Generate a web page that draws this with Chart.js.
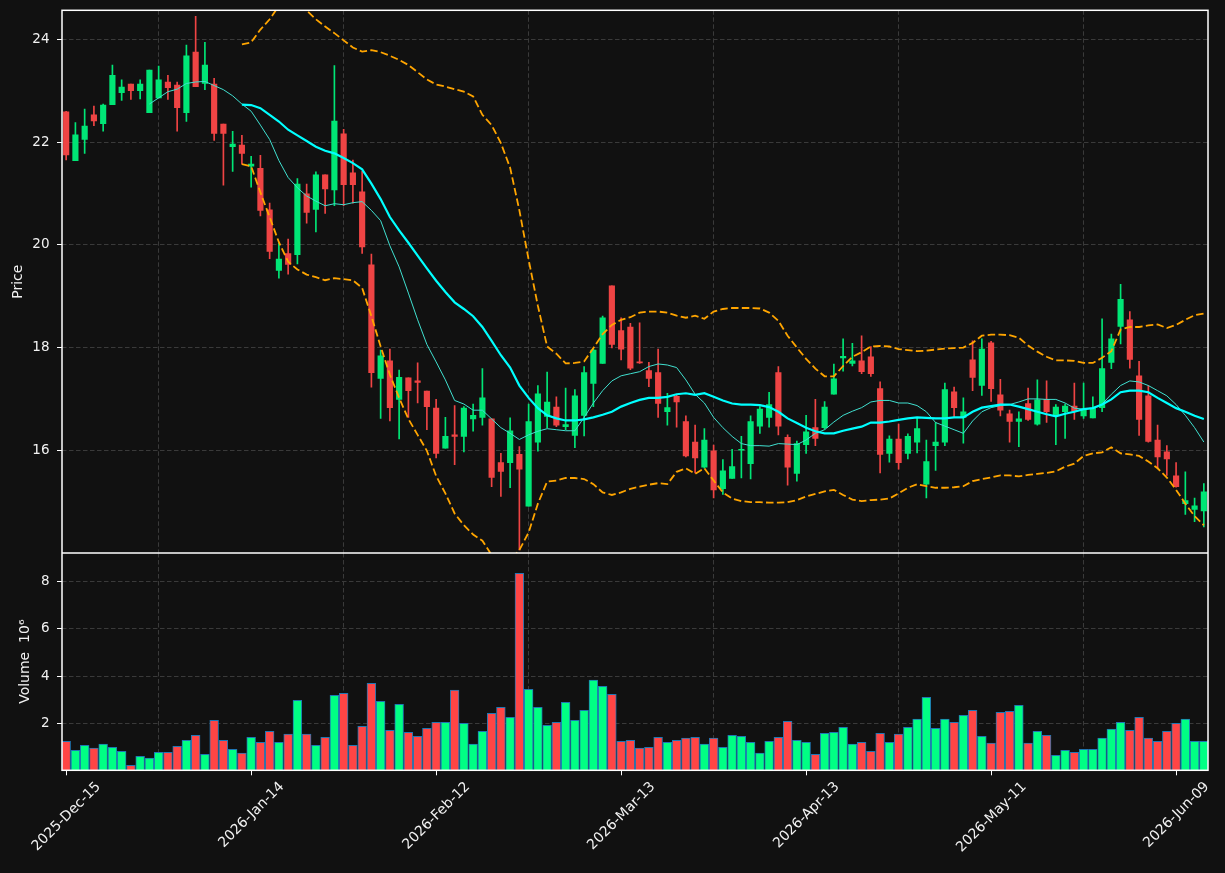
<!DOCTYPE html>
<html><head><meta charset="utf-8">
<script src="https://cdn.jsdelivr.net/npm/chart.js@4.4.1/dist/chart.umd.min.js"></script>
<style>
html,body{margin:0;padding:0;background:#111111;}
#wrap{position:relative;width:1225px;height:873px;background:#111111;overflow:hidden;}
.pane{position:absolute;left:0;}
</style></head><body>
<div id="wrap">
<div class="pane" style="top:0;width:1225px;height:553px"><canvas id="c1" width="1225" height="553"></canvas></div>
<div class="pane" style="top:553px;width:1225px;height:320px"><canvas id="c2" width="1225" height="320"></canvas></div>
</div>
<script>
// ---------------- DATA ----------------
const tickPositions = [0, 20, 40, 60, 80, 100, 120];
const tickLabels = ['2025-Dec-15','2026-Jan-14','2026-Feb-12','2026-Mar-13','2026-Apr-13','2026-May-11','2026-Jun-09'];
const priceTicks = [16, 18, 20, 22, 24];
const volumeTicks = [2, 4, 6, 8];

const open = [22.59,21.64,22.05,22.53,22.36,22.73,22.96,23.13,23.00,22.57,22.86,23.17,23.11,22.57,23.75,23.14,23.13,22.35,21.91,21.94,
21.53,21.49,20.68,19.50,19.83,19.81,20.99,20.69,21.36,21.07,22.16,21.40,21.03,19.61,17.40,17.74,16.99,17.41,17.35,17.15,
16.82,16.04,16.30,16.27,16.61,16.64,16.61,15.76,15.76,15.92,14.91,16.16,16.66,16.84,16.46,16.29,16.68,17.30,17.69,19.20,
18.33,18.40,17.72,17.55,17.51,16.75,17.05,16.56,16.16,15.67,15.99,15.25,15.45,16.00,15.74,16.47,16.64,17.51,16.25,15.55,
16.11,16.44,16.44,17.09,17.80,17.69,17.74,17.82,17.20,15.94,16.22,15.94,16.16,15.34,16.09,16.16,17.14,16.64,17.76,17.26,
18.09,17.08,16.71,16.56,16.91,16.51,16.99,16.68,16.75,16.86,16.67,16.63,16.83,17.71,18.41,18.54,17.45,17.06,16.20,15.97,
15.50,14.96,14.85,14.82];
const high = [22.60,22.38,22.64,22.70,22.74,23.50,23.21,23.13,23.21,23.40,23.48,23.30,23.17,23.89,24.45,23.94,23.24,22.35,22.21,22.13,
21.72,21.74,20.81,20.03,20.11,21.29,21.18,21.42,21.36,23.49,22.25,21.65,21.43,19.82,17.95,17.97,17.56,17.41,17.70,17.15,
16.99,16.64,16.87,16.85,16.90,17.59,16.61,15.94,16.63,16.07,16.90,17.26,17.52,17.04,17.21,17.18,17.63,17.97,18.61,19.20,
18.58,18.47,18.48,17.71,17.97,17.11,17.08,16.67,16.49,16.42,16.10,15.82,16.02,16.27,16.67,16.85,17.13,17.63,16.30,16.18,
16.68,16.99,16.95,17.68,18.17,18.08,18.23,18.02,17.33,16.28,16.51,16.32,16.64,16.20,16.54,17.31,17.23,17.02,18.13,18.17,
18.12,17.38,16.78,16.75,17.21,17.37,17.35,16.89,16.90,17.31,17.31,17.04,18.56,18.26,19.23,18.70,17.73,17.26,16.49,16.09,
15.76,15.58,15.07,15.35];
const low = [21.65,21.64,21.78,22.32,22.21,22.73,22.81,22.83,22.84,22.57,22.86,22.83,22.21,22.40,23.08,23.02,22.03,21.16,21.43,21.57,
21.12,20.56,19.73,19.35,19.43,19.63,20.42,20.25,20.61,20.76,20.76,20.81,19.83,17.23,16.62,16.57,16.22,16.64,16.92,16.40,
15.85,16.04,15.72,15.97,16.37,16.49,15.29,15.10,15.27,14.06,14.91,15.98,16.44,16.46,16.40,16.05,16.28,16.85,17.69,17.99,
17.76,17.57,17.69,17.24,16.64,16.49,16.45,15.87,15.56,15.65,15.07,15.14,15.45,15.46,15.44,16.33,16.45,16.30,15.32,15.40,
15.94,16.09,16.41,17.09,17.54,17.64,17.49,17.44,15.56,15.77,15.63,15.83,15.95,15.07,15.61,16.09,16.64,16.14,17.16,17.07,
16.95,16.67,16.16,16.07,16.58,16.49,16.54,16.11,16.23,16.60,16.62,16.63,16.75,17.59,18.07,17.60,16.29,16.16,15.65,15.51,
15.28,14.75,14.61,14.51];
const close = [21.75,22.14,22.31,22.41,22.72,23.30,23.07,23.00,23.13,23.40,23.21,23.06,22.67,23.68,23.08,23.50,22.17,22.17,21.96,21.78,
21.57,20.67,19.87,19.72,19.62,21.18,20.63,21.36,21.09,22.41,21.17,21.17,19.96,17.51,17.84,16.83,17.42,17.16,17.32,16.85,
15.94,16.27,16.27,16.82,16.68,17.02,15.47,15.59,16.38,15.63,16.56,17.10,16.94,16.49,16.50,17.06,17.51,17.95,18.58,18.06,
17.97,17.60,17.70,17.40,16.91,16.83,16.94,15.89,15.85,16.20,15.23,15.60,15.68,16.02,16.56,16.80,16.89,16.47,15.67,16.13,
16.36,16.23,16.84,17.39,17.83,17.74,17.53,17.49,15.92,16.22,15.76,16.27,16.42,15.78,16.16,17.18,16.83,16.75,17.42,17.97,
17.20,16.78,16.56,16.61,16.60,16.98,16.75,16.84,16.86,16.76,16.80,16.82,17.59,18.17,18.94,17.77,16.60,16.17,15.87,15.83,
15.29,15.02,14.92,15.19];
// volume in millions
const volume = [1.27,0.89,1.10,0.98,1.15,1.02,0.85,0.26,0.64,0.56,0.81,0.81,1.06,1.31,1.52,0.72,2.15,1.31,0.93,0.77,
1.44,1.23,1.69,1.23,1.57,2.99,1.57,1.10,1.44,3.20,3.29,1.10,1.90,3.71,2.95,1.73,2.83,1.65,1.48,1.82,
2.07,2.07,3.42,2.03,1.15,1.69,2.45,2.70,2.28,8.33,3.46,2.70,1.94,2.07,2.91,2.15,2.57,3.84,3.58,3.25,
1.27,1.31,0.98,1.02,1.44,1.23,1.31,1.40,1.44,1.15,1.40,1.02,1.52,1.48,1.23,0.77,1.27,1.44,2.11,1.31,
1.23,0.72,1.61,1.65,1.86,1.15,1.23,0.85,1.61,1.23,1.57,1.86,2.20,3.12,1.82,2.20,2.07,2.36,2.57,1.48,
1.19,2.49,2.53,2.78,1.19,1.69,1.52,0.68,0.89,0.81,0.93,0.93,1.40,1.78,2.07,1.73,2.28,1.40,1.27,1.69,
2.03,2.20,1.27,1.27];
// moving averages and bands, starting indices
const ma10Start = 9;
const ma10 = [22.74,22.86,22.98,23.03,23.14,23.17,23.18,23.10,23.02,22.90,22.74,
22.60,22.33,22.05,21.64,21.31,21.11,20.95,20.85,20.76,20.80,20.78,20.82,20.84,20.67,20.47,19.98,19.57,19.06,18.54,18.06,17.72,
17.37,16.97,16.90,16.78,16.78,16.61,16.44,16.33,16.21,16.30,16.37,16.42,16.40,16.38,16.38,16.64,16.92,17.16,17.35,17.45,17.49,
17.53,17.63,17.68,17.66,17.61,17.37,17.09,16.92,16.64,16.44,16.27,16.13,16.09,16.09,16.08,16.13,16.12,16.11,16.20,16.33,
16.40,16.55,16.68,16.76,16.83,16.94,16.97,16.97,16.92,16.92,16.87,16.75,16.54,16.47,16.40,16.33,16.57,16.75,16.83,16.87,16.89,
16.94,17.00,17.00,16.99,16.99,16.92,16.82,16.80,16.82,16.90,17.09,17.26,17.35,17.33,17.26,17.16,17.06,16.89,16.68,16.44,16.16];
const ma20Start = 19;
const ma20 = [22.73,
22.72,22.66,22.53,22.40,22.24,22.13,22.02,21.91,21.83,21.78,21.69,21.59,21.47,21.19,20.89,20.54,20.28,20.04,19.79,19.54,19.30,
19.08,18.88,18.75,18.61,18.40,18.13,17.85,17.61,17.26,17.02,16.82,16.68,16.62,16.58,16.58,16.60,16.64,16.69,16.75,16.85,16.92,
16.98,17.02,17.02,17.04,17.09,17.11,17.08,17.11,17.04,16.97,16.91,16.89,16.89,16.88,16.84,16.75,16.62,16.53,16.44,16.37,
16.33,16.33,16.38,16.42,16.46,16.54,16.54,16.56,16.59,16.62,16.64,16.63,16.62,16.62,16.64,16.64,16.75,16.83,16.86,16.89,16.89,
16.85,16.80,16.75,16.70,16.66,16.71,16.75,16.80,16.82,16.89,16.99,17.13,17.16,17.16,17.13,17.02,16.92,16.82,16.75,16.67,16.61];
const bbStart = 19;
const bbUpper = [23.90,
23.94,24.19,24.39,24.65,24.68,24.64,24.56,24.39,24.25,24.12,23.98,23.84,23.76,23.79,23.75,23.68,23.60,23.50,23.36,23.22,23.12,
23.08,23.03,22.98,22.89,22.53,22.33,21.98,21.50,20.67,19.71,18.81,18.02,17.88,17.69,17.70,17.73,17.99,18.26,18.44,18.54,18.59,
18.68,18.70,18.70,18.68,18.62,18.58,18.62,18.56,18.70,18.75,18.77,18.77,18.77,18.76,18.68,18.52,18.23,18.00,17.78,17.59,
17.44,17.44,17.64,17.82,17.91,18.02,18.03,18.02,17.97,17.95,17.93,17.94,17.96,17.98,17.99,18.00,18.09,18.23,18.25,18.25,18.24,
18.19,18.04,17.92,17.82,17.75,17.75,17.74,17.70,17.70,17.80,17.93,18.35,18.40,18.40,18.43,18.45,18.38,18.44,18.54,18.63,18.66];
const bbLower = [21.57,
21.53,21.02,20.54,20.05,19.67,19.52,19.42,19.37,19.31,19.35,19.33,19.31,19.16,18.61,18.02,17.47,17.02,16.61,16.30,15.99,15.50,
15.16,14.77,14.54,14.36,14.24,13.96,13.85,13.85,14.06,14.40,14.96,15.39,15.41,15.46,15.46,15.44,15.34,15.18,15.13,15.18,15.25,
15.29,15.33,15.36,15.34,15.58,15.65,15.54,15.65,15.41,15.18,15.06,15.01,14.99,14.99,14.98,14.98,14.99,15.03,15.10,15.15,
15.20,15.23,15.13,15.04,15.01,15.03,15.04,15.06,15.16,15.27,15.34,15.30,15.27,15.27,15.28,15.30,15.40,15.44,15.47,15.51,15.51,
15.49,15.52,15.54,15.56,15.59,15.68,15.74,15.89,15.94,15.96,16.06,15.94,15.92,15.89,15.78,15.65,15.47,15.23,14.96,14.72,14.54];

// ---------------- STYLE ----------------
const BG = '#111111';
const GRID = '#3a3a3a';
const TXT = '#f2f2f2';
const UP = '#00e676', DOWN = '#ef4444';
const VUP = '#00ff84', VDOWN = '#ff4545';
const FONT = '"DejaVu Sans", "Liberation Sans", sans-serif';
Chart.defaults.font.family = FONT;
Chart.defaults.color = TXT;
Chart.defaults.animation = false;

const n = close.length;
const idx = close.map((_, i) => i);
const isUp = idx.map(i => close[i] >= open[i]);
const candleColors = isUp.map(u => u ? UP : DOWN);
const volColors = isUp.map(u => u ? VUP : VDOWN);
const X_MIN = -0.45, X_MAX = (n - 1) + 0.45;

function series(arr, start) { return arr.map((v, k) => ({x: start + k, y: v})); }

const framePlugin = {
  id: 'frame',
  afterDraw(chart) {
    const a = chart.chartArea, ctx = chart.ctx;
    ctx.save();
    ctx.strokeStyle = '#ffffff';
    ctx.lineWidth = 1.5;
    ctx.strokeRect(a.left, a.top, a.right - a.left, a.bottom - a.top);
    ctx.restore();
  }
};
const bgPlugin = { id: 'bg', beforeDraw(c) { const ctx = c.ctx; ctx.save(); ctx.fillStyle = BG; ctx.fillRect(0, 0, c.width, c.height); ctx.restore(); } };

function noPad(s) { s.paddingTop = 0; s.paddingBottom = 0; s.paddingLeft = 0; s.paddingRight = 0; }

function xAxis(h) {
  return {
    type: 'linear', min: X_MIN, max: X_MAX, offset: false,
    afterBuildTicks: s => { s.ticks = tickPositions.map(v => ({value: v})); },
    afterFit: s => { s.height = h; noPad(s); },
    grid: { color: GRID, lineWidth: 1, drawTicks: false },
    border: { display: false, dash: [4.5, 2.5] },
    ticks: { display: false }
  };
}

function yAxis(tickVals, min, max, title, titlePad) {
  return {
    position: 'left', min, max,
    afterBuildTicks: s => { s.ticks = tickVals.map(v => ({value: v})); },
    afterFit: s => { s.width = 62; noPad(s); },
    grid: { color: GRID, lineWidth: 1, drawTicks: true, tickLength: 5, tickColor: '#ffffff', tickWidth: 1 },
    border: { display: false, dash: [4.5, 2.5] },
    ticks: { color: TXT, font: { size: 13.5 }, padding: 7.5, callback: v => String(v) },
    title: { display: true, text: title, color: TXT, font: { size: 14 }, padding: { top: titlePad, bottom: 0 } }
  };
}

// ---------------- PRICE CHART ----------------
new Chart(document.getElementById('c1'), {
  type: 'bar',
  data: {
    datasets: [
      { type: 'line', data: series(bbUpper, bbStart), borderColor: '#ffa500', borderWidth: 1.8, borderDash: [7.5, 3.3], pointRadius: 0, order: 0 },
      { type: 'line', data: series(bbLower, bbStart), borderColor: '#ffa500', borderWidth: 1.8, borderDash: [7.5, 3.3], pointRadius: 0, order: 0 },
      { type: 'line', data: series(ma20, ma20Start), borderColor: '#00ffff', borderWidth: 2.2, pointRadius: 0, order: 0 },
      { type: 'line', data: series(ma10, ma10Start), borderColor: '#40e0d0', borderWidth: 1, pointRadius: 0, order: 0 },
      { type: 'bar', data: idx.map(i => ({x: i, y: [open[i], close[i]]})), backgroundColor: candleColors,
        barThickness: 5.5, minBarLength: 1, grouped: false, order: 1 },
      { type: 'bar', data: idx.map(i => ({x: i, y: [low[i], high[i]]})), backgroundColor: candleColors,
        barThickness: 1, grouped: false, order: 2 }
    ]
  },
  options: {
    responsive: false, animation: false,
    layout: { padding: { top: 10.3, right: 17, left: 0, bottom: 0 } },
    plugins: { legend: { display: false }, tooltip: { enabled: false } },
    scales: {
      x: xAxis(0),
      y: yAxis(priceTicks, 14.0, 24.565, 'Price', 10)
    }
  },
  plugins: [bgPlugin, framePlugin]
});

// ---------------- VOLUME CHART ----------------
const xLabelPlugin = {
  id: 'xlabels',
  afterDraw(chart) {
    const ctx = chart.ctx, xs = chart.scales.x, a = chart.chartArea;
    ctx.save();
    ctx.strokeStyle = '#ffffff'; ctx.lineWidth = 1;
    ctx.font = '14px ' + FONT;
    ctx.fillStyle = TXT;
    tickPositions.forEach((p, k) => {
      const px = Math.round(xs.getPixelForValue(p)) + 0.5;
      ctx.beginPath(); ctx.moveTo(px, a.bottom); ctx.lineTo(px, a.bottom + 5); ctx.stroke();
      const txt = tickLabels[k];
      const w = ctx.measureText(txt).width;
      const h = 14 * 1.17;
      const side = (w + h) * Math.SQRT1_2;
      const cy = a.bottom + 5 + 3.5 + side / 2;
      ctx.save();
      ctx.translate(px, cy);
      ctx.rotate(-Math.PI / 4);
      ctx.textAlign = 'center'; ctx.textBaseline = 'middle';
      ctx.fillText(txt, 0, 0);
      ctx.restore();
    });
    ctx.restore();
  }
};

new Chart(document.getElementById('c2'), {
  type: 'bar',
  data: {
    datasets: [
      { data: idx.map(i => ({x: i, y: volume[i]})), backgroundColor: volColors, borderColor: '#1f77b4',
        borderWidth: 1, barThickness: 8.8, grouped: false }
    ]
  },
  options: {
    responsive: false, animation: false,
    layout: { padding: { top: 0, right: 17, left: 0, bottom: 0 } },
    plugins: { legend: { display: false }, tooltip: { enabled: false } },
    scales: {
      x: xAxis(102.7),
      y: yAxis(volumeTicks, 0.05, 9.19, 'Volume  10\u2076', 17)
    }
  },
  plugins: [bgPlugin, framePlugin, xLabelPlugin]
});
</script>
</body></html>
